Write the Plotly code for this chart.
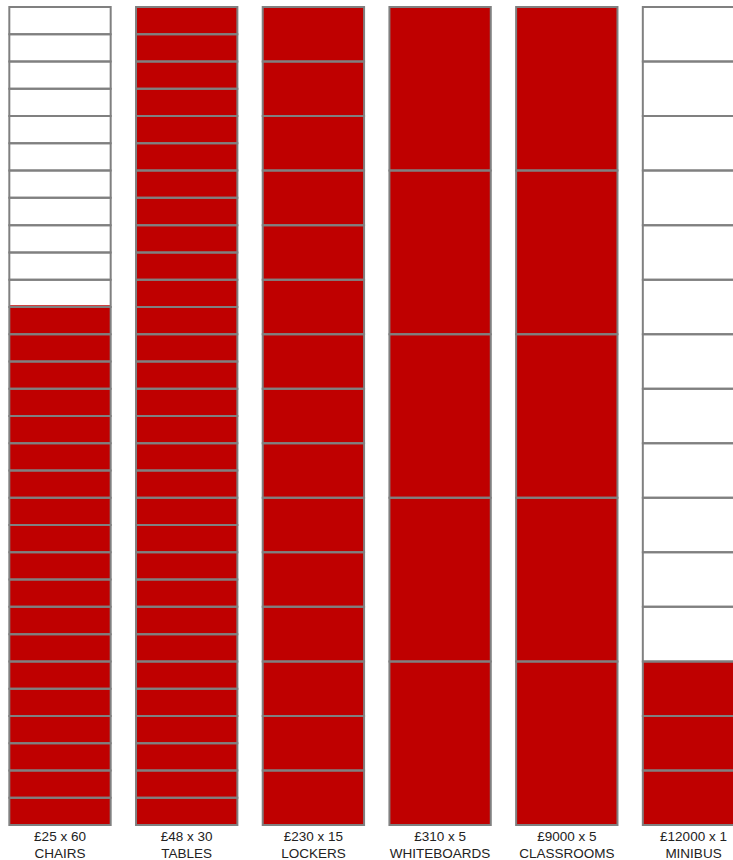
import plotly.graph_objects as go

# ---- data ----
items = ["CHAIRS", "TABLES", "LOCKERS", "WHITEBOARDS", "CLASSROOMS", "MINIBUS"]
unit_prices = [25, 48, 230, 310, 9000, 12000]
quantities = [60, 30, 15, 5, 5, 1]
cells = [30, 30, 15, 5, 5, 15]          # number of boxes in each column
filled_cells = [19.06, 30, 15, 5, 5, 3]  # boxes funded so far

labels = [f"£{p} x {q}<br>{name}" for p, q, name in zip(unit_prices, quantities, items)]

RED = "#BF0000"
GRID = "#808080"
BAR_W = 0.8

fig = go.Figure()

# funded portion
fig.add_trace(go.Bar(
    x=labels,
    y=[f / n for f, n in zip(filled_cells, cells)],
    width=BAR_W,
    marker=dict(color=RED, line=dict(width=0)),
    hoverinfo="skip",
    showlegend=False,
))

# cell outlines
for k in range(max(cells)):
    xs, ys, bs = [], [], []
    for lab, n in zip(labels, cells):
        if k < n:
            xs.append(lab)
            ys.append(1.0 / n)
            bs.append(k / n)
    fig.add_trace(go.Bar(
        x=xs, y=ys, base=bs, width=BAR_W,
        marker=dict(color="rgba(0,0,0,0)", line=dict(color=GRID, width=2)),
        hoverinfo="skip", showlegend=False,
    ))

W, H = 733, 860
px_per_cat = 126.7
first_center = 60.0
x0 = -first_center / px_per_cat
x1 = x0 + W / px_per_cat
pad = 3 / 818

fig.update_layout(
    width=W, height=H,
    margin=dict(l=0, r=0, t=4, b=32, autoexpand=False),
    barmode="overlay",
    plot_bgcolor="white", paper_bgcolor="white",
    font=dict(family="Liberation Sans, Arial, Helvetica, sans-serif", size=13.5, color="#222222"),
    xaxis=dict(type="category", range=[x0, x1], showgrid=False, zeroline=False,
               showline=False, ticks="", ticklabelstandoff=-2, automargin=False,
               fixedrange=True),
    yaxis=dict(range=[-pad, 1 + pad], visible=False, fixedrange=True, automargin=False),
    hovermode=False,
)

fig.write_html(
    "out.html",
    config={"displayModeBar": False},
    post_script="document.body.style.margin='0';document.body.style.overflow='hidden';",
)
